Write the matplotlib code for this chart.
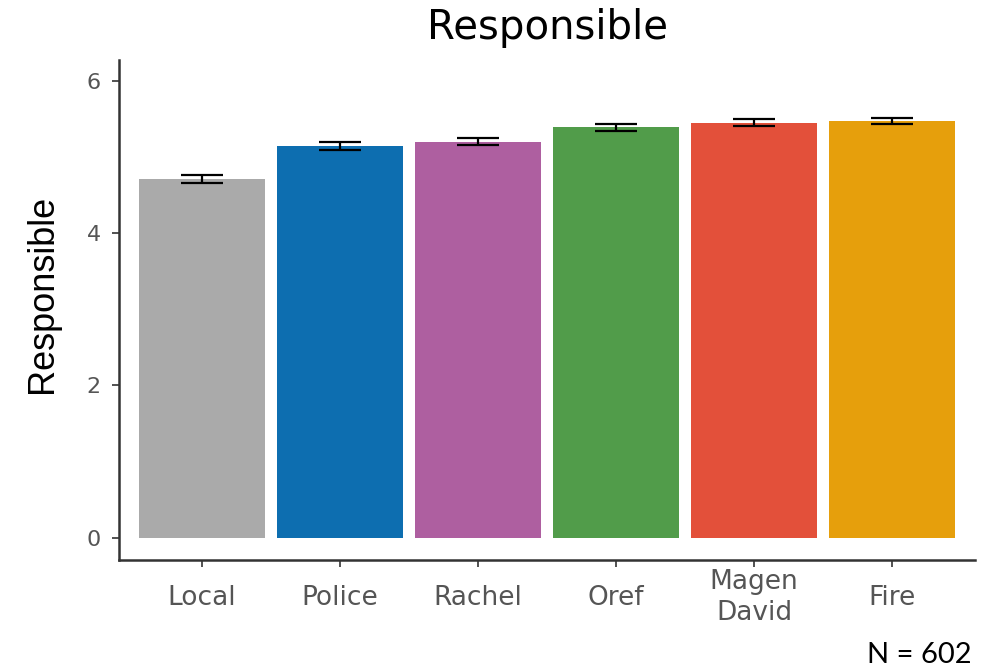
import matplotlib.pyplot as plt

# данные графика
categories = ['Local', 'Police', 'Rachel', 'Oref', 'Magen\nDavid', 'Fire']
means = [4.71, 5.14, 5.20, 5.385, 5.45, 5.47]
errors = [0.053, 0.05, 0.05, 0.05, 0.04, 0.045]
colors = ['#aaaaaa', '#0d6eb0', '#ae5fa0', '#519c4a', '#e3503a', '#e69f0c']
yticks = [0, 2, 4, 6]

fig = plt.figure(figsize=(9.81, 6.67), dpi=100)
ax = fig.add_axes([0.1213, 0.1604, 0.8726, 0.7496])

x = range(len(categories))
ax.bar(x, means, width=0.91, color=colors)
ax.errorbar(x, means, yerr=errors, fmt='none', ecolor='black',
            elinewidth=1.6, capsize=15, capthick=1.6)

ax.set_xlim(-0.6, 5.6)
ax.set_ylim(-0.29, 6.27)
ax.set_xticks(list(x))
ax.set_xticklabels(categories, fontsize=19, color='#555555',
                   family=['DejaVu Sans'], linespacing=1.25)
for lbl in ax.get_xticklabels():
    lbl.set_va('center')
ax.set_yticks(yticks)
ax.set_yticklabels([str(t) for t in yticks], fontsize=16, color='#555555',
                   family=['DejaVu Sans'])
ax.tick_params(axis='both', length=5, width=1.2, color='#333333')
ax.tick_params(axis='x', pad=22)
ax.tick_params(axis='y', pad=8)

# оформляем оси
for side in ['top', 'right']:
    ax.spines[side].set_visible(False)
for side in ['left', 'bottom']:
    ax.spines[side].set_color('#333333')
    ax.spines[side].set_linewidth(1.8)

ax.set_title('Responsible', fontsize=29, family=['DejaVu Sans'], pad=15)
ax.set_ylabel('Responsible', fontsize=26, family=['Liberation Sans'])
ax.yaxis.set_label_coords(-0.069, 0.532)

fig.text(0.884, 0.006, 'N = 602', fontsize=21, family=['Lato'], va='baseline')

fig.savefig('out.png', dpi=100)
